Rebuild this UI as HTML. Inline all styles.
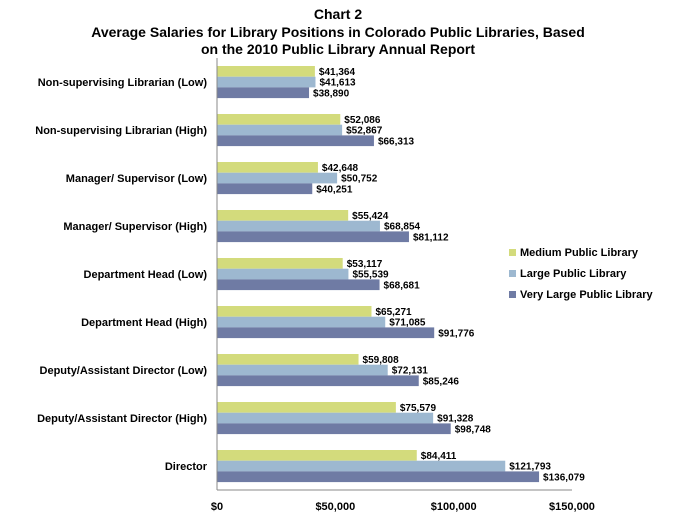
<!DOCTYPE html>
<html><head><meta charset="utf-8"><style>
body{margin:0;background:#fff;font-family:"Liberation Sans",Arial,sans-serif;}
svg text{font-family:"Liberation Sans",Arial,sans-serif;font-weight:bold;fill:#000;}
</style></head><body>
<svg id="chart" width="677" height="525">
<text x="338" y="19" text-anchor="middle" font-size="14">Chart 2</text>
<text x="338" y="37" text-anchor="middle" font-size="14">Average Salaries for Library Positions in Colorado Public Libraries, Based</text>
<text x="338" y="54" text-anchor="middle" font-size="14">on the 2010 Public Library Annual Report</text>
<g id="plot"></g>
</svg>
<script>
const categories=["Non-supervising Librarian (Low)","Non-supervising Librarian (High)","Manager/ Supervisor (Low)","Manager/ Supervisor (High)","Department Head (Low)","Department Head (High)","Deputy/Assistant Director (Low)","Deputy/Assistant Director (High)","Director"];
const seriesNames=["Medium Public Library","Large Public Library","Very Large Public Library"];
const medium=[41364,52086,42648,55424,53117,65271,59808,75579,84411];
const large=[41613,52867,50752,68854,55539,71085,72131,91328,121793];
const veryLarge=[38890,66313,40251,81112,68681,91776,85246,98748,136079];
const ticks=[0,50000,100000,150000];
const colors=["#d3db7c","#9db8d0","#6f7ba4"];
const x0=217,x1=572,xMax=150000,plotTop=58,band=48,barH=10.7;
const xs=v=>x0+(x1-x0)*v/xMax;
const plot=document.getElementById('plot');
const NS="http://www.w3.org/2000/svg";
function mk(t,a){const e=document.createElementNS(NS,t);for(const k in a)e.setAttribute(k,a[k]);plot.appendChild(e);return e;}
const fmt=v=>"$"+v.toLocaleString("en-US");
const series=[medium,large,veryLarge];
categories.forEach((c,i)=>{
  const gy=plotTop+i*band+8;
  const t=mk('text',{x:207,y:gy+16+4,'text-anchor':'end','font-size':11});
  t.textContent=c;
  
  
  series.forEach((s,j)=>{
    const y=gy+j*barH;
    const r=mk('rect',{x:x0,y:y,width:xs(s[i])-x0,height:barH,fill:colors[j]});
    
    
    const l=mk('text',{x:xs(s[i])+4,y:y+9,'font-size':10});
    l.textContent=fmt(s[i]);
    
    
  });
});
const bottom=plotTop+categories.length*band;
const ax=mk('line',{x1:x0,y1:plotTop,x2:x0,y2:bottom,stroke:'#888','stroke-width':1});


const bx=mk('line',{x1:x0,y1:bottom,x2:x1,y2:bottom,stroke:'#888','stroke-width':1});


ticks.forEach(v=>{
  const t=mk('text',{x:xs(v),y:510,'text-anchor':'middle','font-size':11});
  t.textContent=fmt(v);
  
  
});
seriesNames.forEach((n,j)=>{
  const y=256+j*21;
  const r=mk('rect',{x:509,y:y-7,width:7,height:7,fill:colors[j]});
  
  
  const t=mk('text',{x:520,y:y,'font-size':11});
  t.textContent=n;
  
  
});
</script>
</body></html>
